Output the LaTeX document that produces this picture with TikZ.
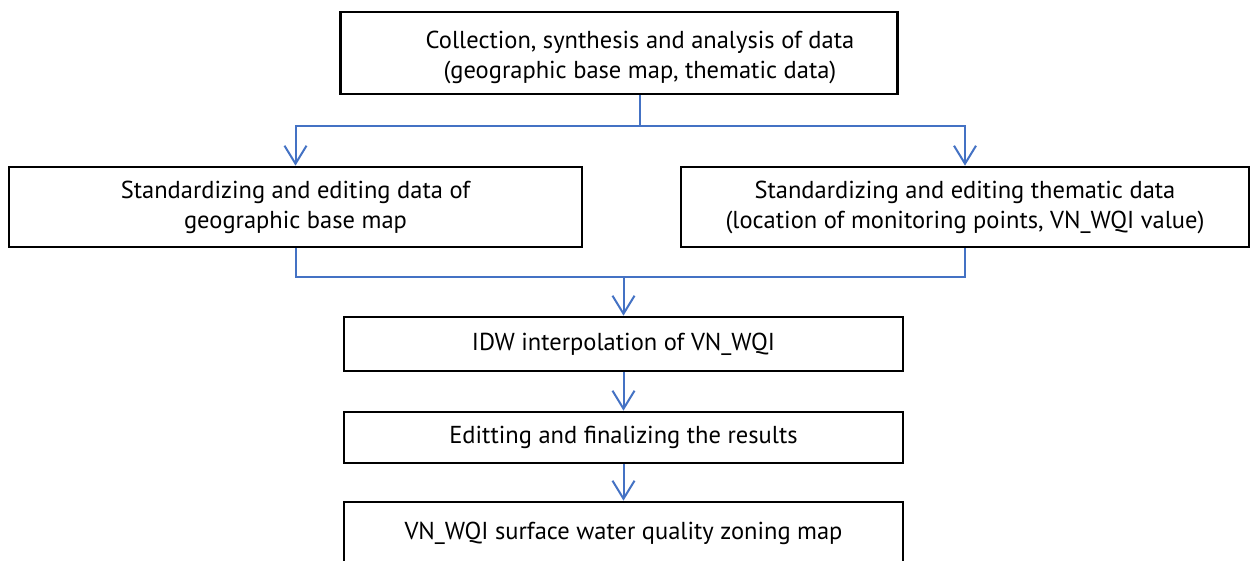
\documentclass[tikz,border=0pt]{standalone}
\usepackage{fontspec}
\setmainfont{PT Sans}
\usetikzlibrary{arrows.meta}
\definecolor{flowblue}{HTML}{4472C4}
\begin{document}
\begin{tikzpicture}[x=1pt,y=-1pt,
  box/.style={draw=black, line width=2.7pt, rectangle, inner sep=0pt, align=center,
    font=\fontsize{24.5}{30}\selectfont},
  lbl/.style={align=center, font=\fontsize{24.5}{30}\selectfont, inner sep=0pt},
  flow/.style={draw=flowblue, line width=2pt},
  flowarrow/.style={flow, -{Straight Barb[length=18pt,width=22pt,line width=2pt]}}]
\useasboundingbox[fill=white] (0,0) rectangle (1250,561);
% boxes
\node[box, minimum width=557pt, minimum height=82pt] (topbox) at (619,53) {};
\node[lbl] (toptext) at (640,57) {Collection, synthesis and analysis of data\\(geographic base map, thematic data)};
\node[box, minimum width=573pt, minimum height=80pt] (leftbox) at (295.5,207)
  {Standardizing and editing data of\\geographic base map};
\node[box, minimum width=568pt, minimum height=80pt] (rightbox) at (965,207)
  {Standardizing and editing thematic data\\(location of monitoring points, VN\_WQI value)};
\node[box, minimum width=559pt, minimum height=54pt] (idw) at (623.5,344)
  {IDW interpolation of VN\_WQI};
\node[box, minimum width=559pt, minimum height=51pt] (edit) at (623.5,437.5)
  {Editting and finalizing the results};
\node[box, minimum width=559pt, minimum height=62pt] (final) at (623.5,533)
  {VN\_WQI surface water quality zoning map};
% connectors
\coordinate (split) at (640,126);
\draw[flow] (topbox.south -| split) -- (split);
\draw[flowarrow] (split) -| (leftbox.north);
\draw[flowarrow] (split) -| (rightbox.north);
\coordinate (merge) at (623.5,277);
\draw[flow] (leftbox.south) -- (leftbox.south |- merge) -- (rightbox.south |- merge) -- (rightbox.south);
\draw[flowarrow] (merge) -- (idw.north);
\draw[flowarrow] (idw.south) -- (edit.north);
\draw[flowarrow] (edit.south) -- (final.north);
\end{tikzpicture}
\end{document}
